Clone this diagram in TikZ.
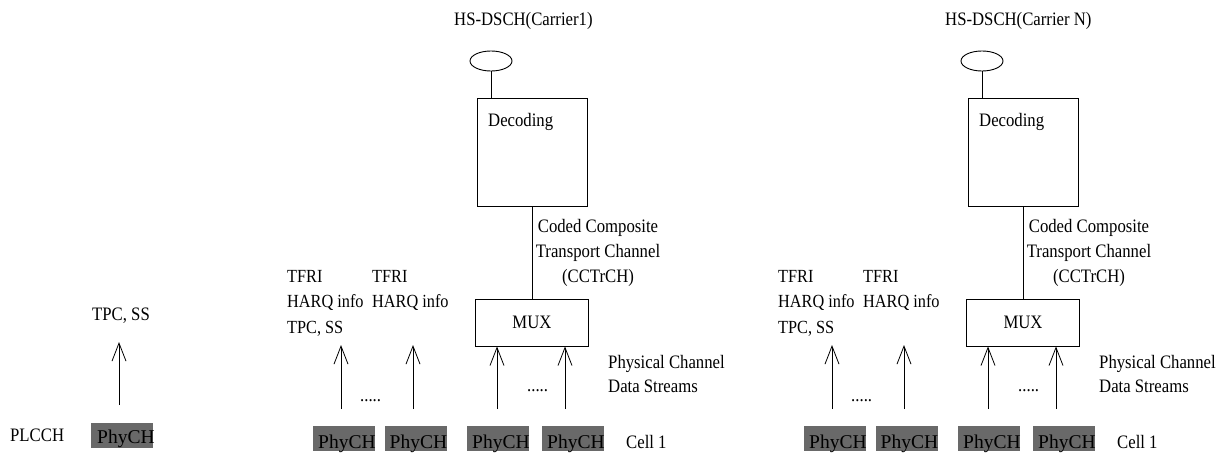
\documentclass[tikz,border=0pt]{standalone}
\usepackage{fontspec}
\setmainfont{Liberation Serif}[FakeStretch=0.88]
\newfontfamily\phyfont{Liberation Serif}
\usetikzlibrary{arrows.meta,shapes.geometric}
\definecolor{phygray}{RGB}{105,105,105}
\begin{document}
\begin{tikzpicture}[x=1pt,y=-1pt,
  txt/.style={inner sep=0pt,font=\fontsize{19}{25}\selectfont},
  tfri/.style={inner sep=0pt,align=left,font=\fontsize{18.5}{25.7}\selectfont},
  coded/.style={inner sep=0pt,align=center,font=\fontsize{19}{25}\selectfont},
  pch/.style={inner sep=0pt,align=left,font=\fontsize{19}{24}\selectfont},
  phytxt/.style={inner sep=0pt,font=\phyfont\fontsize{19.5}{20}\selectfont},
  box/.style={draw,line width=0.9pt,inner sep=0pt},
  ell/.style={draw,ellipse,line width=0.9pt,inner sep=0pt,minimum width=42pt,minimum height=20pt},
  phy/.style={fill=phygray,inner sep=0pt,minimum width=62pt,minimum height=25pt},
  arr/.style={line width=0.8pt,-{Straight Barb[length=18pt,width=14pt]}},
  conn/.style={line width=0.8pt}]
\useasboundingbox (0,0) rectangle (1229,455);

% left PLCCH part
\node[phy] (pL) at (122,435) {};
\node[phytxt,anchor=base west] (pLt) at (97,443) {PhyCH};
\node[txt,anchor=base west] (plcch) at (10,441) {PLCCH};
\node[txt,anchor=base west] (tpcL) at (92,320) {TPC, SS};
\coordinate (aL0) at (119,405);
\coordinate (aL1) at (119,342);
\draw[arr] (aL0) -- (aL1);

\foreach \g/\k/\lab in {0/1/{HS-DSCH(Carrier1)},491/2/{HS-DSCH(Carrier N)}}{
  \node[txt,anchor=base west] (hs\k) at (454+\g,25) {\lab};
  \node[ell] (e\k) at (491+\g,61) {};
  \node[box,minimum width=110pt,minimum height=108pt] (dec\k) at (532+\g,152) {};
  \node[txt,anchor=base west] (dect\k) at (488+\g,126) {Decoding};
  \node[box,txt,minimum width=113pt,minimum height=47pt] (mux\k) at (532+\g,322.5) {MUX};
  \draw[conn] (e\k.south) -- (e\k.south |- dec\k.north);
  \draw[conn] (dec\k.south) -- (mux\k.north);
  % multi-line nodes: base anchor = baseline of last line
  \node[coded,anchor=base] (cc\k) at (598+\g,282) {Coded Composite\\Transport Channel\\(CCTrCH)};
  \node[tfri,anchor=base west] (ta\k) at (287+\g,333.4) {TFRI\\HARQ info\\TPC, SS};
  \node[tfri,anchor=base west] (tb\k) at (372+\g,307.7) {TFRI\\HARQ info};
  \node[txt,anchor=base west] (da\k) at (360+\g,401) {.....};
  \node[txt,anchor=base west] (db\k) at (527+\g,391) {.....};
  \node[pch,anchor=base west] (pc\k) at (608+\g,392) {Physical Channel\\Data Streams};
  \node[txt,anchor=base west] (cell\k) at (626+\g,448) {Cell 1};
  \foreach \x/\j in {344/1,415.5/2,498/3,573/4}{
    \node[phy] (p\k\j) at (\x+\g,438.5) {};
    \node[phytxt,anchor=base west] (pt\k\j) at (\x+\g-26,448) {PhyCH};
  }
  \coordinate (a\k1) at (341+\g,409);
  \coordinate (b\k1) at (341+\g,345);
  \coordinate (a\k2) at (413+\g,409);
  \coordinate (b\k2) at (413+\g,345);
  \coordinate (a\k3) at (497+\g,409);
  \coordinate (a\k4) at (565+\g,409);
  \draw[arr] (a\k1) -- (b\k1);
  \draw[arr] (a\k2) -- (b\k2);
  \draw[arr] (a\k3) -- (a\k3 |- mux\k.south);
  \draw[arr] (a\k4) -- (a\k4 |- mux\k.south);
}
\end{tikzpicture}
\end{document}
